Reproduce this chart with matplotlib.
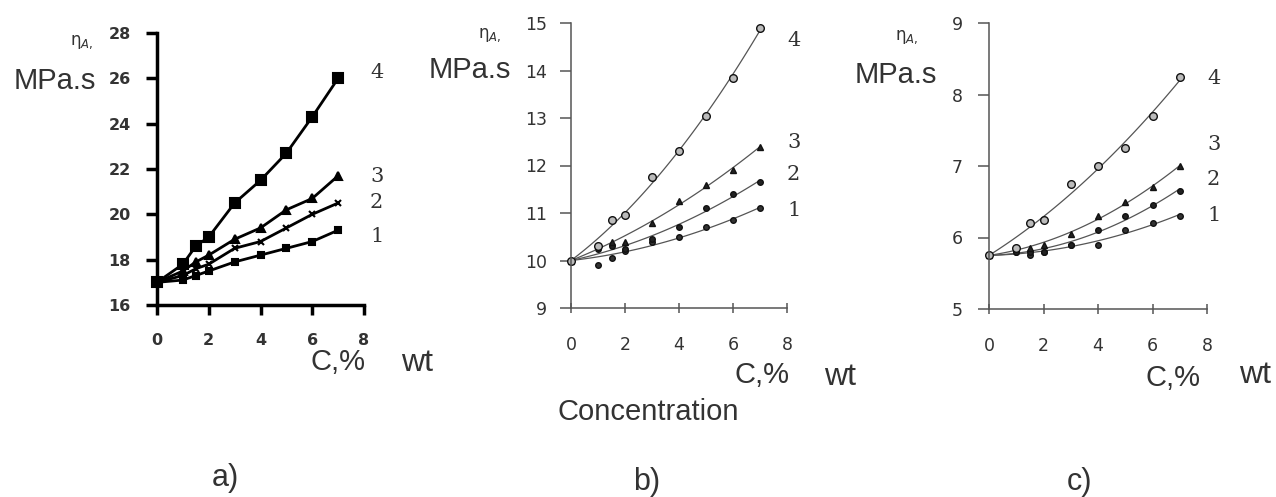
import matplotlib
matplotlib.use("Agg")
import matplotlib.pyplot as plt
import numpy as np

W, H = 1276, 497
conc = [0, 1, 1.5, 2, 3, 4, 5, 6, 7]

# panel a
a1 = [17, 17.1, 17.3, 17.5, 17.9, 18.2, 18.5, 18.8, 19.3]
a2 = [17, 17.3, 17.6, 17.8, 18.5, 18.8, 19.4, 20.0, 20.5]
a3 = [17, 17.5, 17.9, 18.2, 18.9, 19.4, 20.2, 20.7, 21.7]
a4 = [17, 17.8, 18.6, 19.0, 20.5, 21.5, 22.7, 24.3, 26.0]
# panel b
b1 = [10, 9.9, 10.05, 10.2, 10.4, 10.5, 10.7, 10.85, 11.1]
b2 = [10, 10.25, 10.3, 10.25, 10.45, 10.7, 11.1, 11.4, 11.65]
b3 = [10, 10.3, 10.4, 10.4, 10.8, 11.25, 11.6, 11.9, 12.4]
b4 = [10, 10.3, 10.85, 10.95, 11.75, 12.3, 13.05, 13.85, 14.9]
# panel c
c1 = [5.75, 5.8, 5.75, 5.8, 5.9, 5.9, 6.1, 6.2, 6.3]
c2 = [5.75, 5.8, 5.8, 5.8, 5.9, 6.1, 6.3, 6.45, 6.65]
c3 = [5.75, 5.85, 5.85, 5.9, 6.05, 6.3, 6.5, 6.7, 7.0]
c4 = [5.75, 5.85, 6.2, 6.25, 6.75, 7.0, 7.25, 7.7, 8.25]

curve_labels = ["1", "2", "3", "4"]
xticks = [0, 2, 4, 6, 8]

fig = plt.figure(figsize=(W/100, H/100), dpi=100)
TXT = "#333333"

def ax_px(x0, x1, y0, y1):
    return fig.add_axes([x0/W, 1 - y1/H, (x1-x0)/W, (y1-y0)/H])

def ftext(x, y, s, **kw):
    fig.text(x/W, 1 - y/H, s, **kw)

def style(ax, lw, col, fs, ylim, yticks, xdir, xpad, ypad, weight="normal"):
    for s in ["top", "right"]:
        ax.spines[s].set_visible(False)
    for s in ["left", "bottom"]:
        ax.spines[s].set_linewidth(lw)
        ax.spines[s].set_color(col)
    ax.set_xlim(0, 8)
    ax.set_ylim(*ylim)
    ax.set_xticks(xticks)
    ax.set_yticks(yticks)
    ax.tick_params(axis="x", direction=xdir, width=lw, length=7, colors=col,
                   labelsize=fs, labelcolor=TXT, pad=xpad)
    ax.tick_params(axis="y", direction="out", width=lw, length=8, colors=col,
                   labelsize=fs, labelcolor=TXT, pad=ypad)
    for t in ax.get_xticklabels() + ax.get_yticklabels():
        t.set_fontweight(weight)
    ax.patch.set_alpha(0)

# ---- panel a
ax = ax_px(157, 364, 33, 305)
style(ax, 2.5, "black", 11.5, (16, 28), [16, 18, 20, 22, 24, 26, 28], "out", 13, 11, "bold")
mk = ["s", "x", "^", "s"]
ms = [5, 5, 6, 7]
for ys, m, s in zip([a1, a2, a3, a4], mk, ms):
    ax.plot(conc, ys, color="black", lw=2, marker=m, ms=s, mew=1.5, clip_on=False)

# ---- panel b & c
def smooth_panel(ax, series):
    xs = np.linspace(0, 7, 100)
    wts = np.ones(len(conc))
    wts[0] = 20.0
    mks = [dict(marker="o", ms=4, mfc="#333333"),
           dict(marker="o", ms=4, mfc="#222222"),
           dict(marker="^", ms=5, mfc="#222222"),
           dict(marker="o", ms=5.5, mfc="#bbbbbb")]
    for ys, m in zip(series, mks):
        p = np.polyfit(conc, ys, 2, w=wts)
        ax.plot(xs, np.polyval(p, xs), color="#555555", lw=0.9)
        ax.plot(conc, ys, ls="none", mec="#111111", mew=1.0, clip_on=False, **m)

axb = ax_px(571, 787, 23, 308)
style(axb, 1.1, "#555555", 12.5, (9, 15), [9, 10, 11, 12, 13, 14, 15], "inout", 17, 9)
smooth_panel(axb, [b1, b2, b3, b4])

axc = ax_px(989, 1207, 23, 309)
style(axc, 1.1, "#555555", 12.5, (5, 9), [5, 6, 7, 8, 9], "inout", 17, 11)
smooth_panel(axc, [c1, c2, c3, c4])

# curve number labels
lab_fs = 15
for x, ys in [(370, [237, 203, 177, 72]), (787, [210, 175, 143, 40]), (1207, [215, 180, 145, 78])]:
    for lbl, y in zip(curve_labels, ys):
        ftext(x, y, lbl, fontsize=lab_fs, color=TXT, va="center", ha="left",
              family="DejaVu Serif")

# axis labels
ETA = r"η$_{A,}$"
ftext(82, 42, ETA, fontsize=12, color=TXT, va="center", ha="center")
ftext(55, 81, "MPa.s", fontsize=21, color=TXT, va="center", ha="center", family="Liberation Sans")
ftext(490, 35, ETA, fontsize=12, color=TXT, va="center", ha="center")
ftext(470, 70, "MPa.s", fontsize=21, color=TXT, va="center", ha="center", family="Liberation Sans")
ftext(907, 37, ETA, fontsize=12, color=TXT, va="center", ha="center")
ftext(896, 75, "MPa.s", fontsize=21, color=TXT, va="center", ha="center", family="Liberation Sans")

for xc, yc, xw, yw in [(338, 362, 417, 363), (762, 375, 840, 377), (1173, 378, 1255, 375)]:
    ftext(xc, yc, "C,%", fontsize=21, color=TXT, va="center", ha="center", family="Liberation Sans")
    ftext(xw, yw, "wt", fontsize=23, color=TXT, va="center", ha="center", family="Liberation Sans")

ftext(648, 412, "Concentration", fontsize=21, color=TXT, va="center", ha="center", family="Liberation Sans")
ftext(225, 478, "a)", fontsize=22, color=TXT, va="center", ha="center", family="Liberation Sans")
ftext(647, 482, "b)", fontsize=22, color=TXT, va="center", ha="center", family="Liberation Sans")
ftext(1080, 482, "c)", fontsize=22, color=TXT, va="center", ha="center", family="Liberation Sans")

fig.savefig("out.png", dpi=100)
